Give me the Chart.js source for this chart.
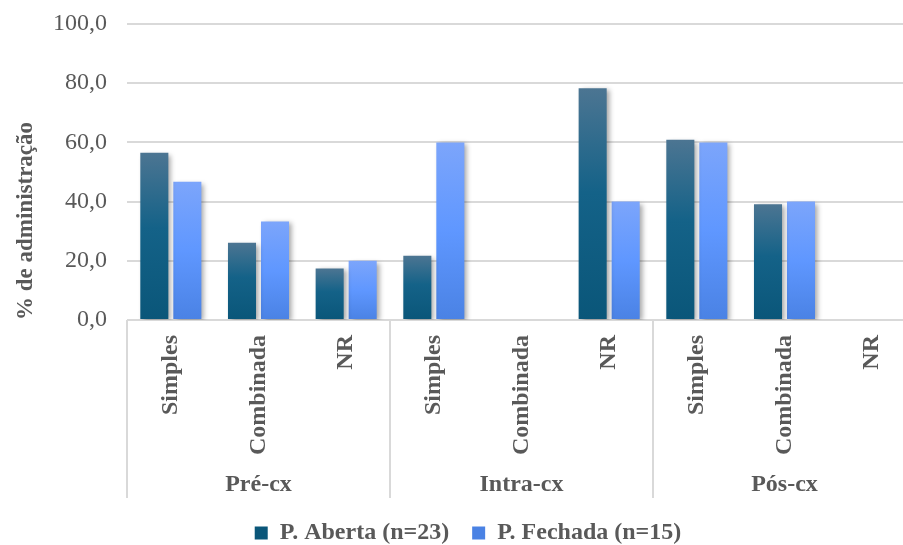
<!DOCTYPE html>
<html>
<head>
<meta charset="utf-8">
<script src="https://cdn.jsdelivr.net/npm/chart.js@4/dist/chart.umd.min.js"></script>
<style>
  html, body { margin: 0; padding: 0; background: #ffffff; overflow: hidden; width: 903px; height: 545px; }
  #wrap { position: relative; width: 916px; height: 555px; }
</style>
</head>
<body>
<div id="wrap"><canvas id="chart" width="916" height="555"></canvas></div>
<script>
// Groups (moment of administration) and sub-categories (type of analgesia)
const groups = ['Pré-cx', 'Intra-cx', 'Pós-cx'];
const subcats = ['Simples', 'Combinada', 'NR'];
const categories = groups.flatMap(() => subcats);

// % of patients per category
const seriesNames = ['P. Aberta (n=23)', 'P. Fechada (n=15)'];
const aberta  = [56.5, 26.1, 17.4, 21.7, 0, 78.3, 60.9, 39.1, 0];
const fechada = [46.7, 33.3, 20.0, 60.0, 0, 40.0, 60.0, 40.0, 0];

const yMin = 0, yMax = 100, yStep = 20;

const TEXT = '#595959';
const GRID = '#d9d9d9';
const SERIF = "'Liberation Serif', 'Times New Roman', serif";

// Vertical gradient fill for each bar, solid colour for the legend swatch
function barFill(stops, solid) {
  return (c) => {
    if (c.type !== 'data') return solid;
    const chart = c.chart;
    if (!chart.chartArea || !c.parsed) return solid;
    const y = chart.scales.y;
    const top = y.getPixelForValue(c.parsed.y);
    const bottom = y.getPixelForValue(0);
    if (bottom - top < 1) return solid;
    const g = chart.ctx.createLinearGradient(0, top, 0, bottom);
    stops.forEach(([o, col]) => g.addColorStop(o, col));
    return g;
  };
}

// Soft drop shadow under the bars
const barShadow = {
  id: 'barShadow',
  beforeDatasetsDraw(chart) {
    const ctx = chart.ctx;
    ctx.save();
    ctx.shadowColor = 'rgba(0,0,0,0.35)';
    ctx.shadowBlur = 5;
    ctx.shadowOffsetX = 3;
    ctx.shadowOffsetY = 2;
  },
  afterDatasetsDraw(chart) {
    chart.ctx.restore();
  }
};

// Separators between the groups on the category axis
const groupSeparators = {
  id: 'groupSeparators',
  afterDraw(chart) {
    const x = chart.scales.x;
    const x2 = chart.scales.x2;
    const ctx = chart.ctx;
    const n = categories.length;
    ctx.save();
    ctx.strokeStyle = GRID;
    ctx.lineWidth = 2;
    for (let i = 0; i <= n; i += subcats.length) {
      let px;
      if (i === 0) px = x.left;
      else if (i === n) px = x.right;
      else px = (x.getPixelForValue(i - 1) + x.getPixelForValue(i)) / 2;
      ctx.beginPath();
      ctx.moveTo(px, x.top);
      ctx.lineTo(px, x2.bottom);
      ctx.stroke();
    }
    ctx.restore();
  }
};

new Chart(document.getElementById('chart'), {
  type: 'bar',
  data: {
    labels: categories,
    datasets: [
      {
        label: seriesNames[0],
        data: aberta,
        backgroundColor: barFill([[0, '#4c7592'], [0.45, '#146288'], [1, '#0a5679']], '#1a5e80'),
        borderWidth: 0,
        categoryPercentage: 0.753,
        barPercentage: 0.85
      },
      {
        label: seriesNames[1],
        data: fechada,
        backgroundColor: barFill([[0, '#7ca5fb'], [0.5, '#5f97ff'], [1, '#4a82e4']], '#6699fa'),
        borderWidth: 0,
        categoryPercentage: 0.753,
        barPercentage: 0.85
      }
    ]
  },
  options: {
    responsive: false,
    animation: false,
    devicePixelRatio: 1,
    layout: { padding: { left: 20, right: 0, top: 24, bottom: 0 } },
    plugins: {
      tooltip: { enabled: false },
      legend: {
        position: 'bottom',
        labels: {
          boxWidth: 13,
          boxHeight: 13,
          padding: 23,
          color: TEXT,
          font: { family: SERIF, size: 24, weight: 'bold' }
        }
      }
    },
    scales: {
      y: {
        min: yMin,
        max: yMax,
        ticks: {
          stepSize: yStep,
          padding: 0,
          color: TEXT,
          font: { family: SERIF, size: 24 },
          callback: (v) => v.toFixed(1).replace('.', ',')
        },
        grid: { color: GRID, lineWidth: 2, drawTicks: true, tickLength: 20, tickColor: 'rgba(0,0,0,0)' },
        border: { display: false },
        title: {
          display: true,
          text: '% de administração',
          align: 'start',
          color: TEXT,
          padding: { top: -8, bottom: 0 },
          font: { family: SERIF, size: 23, weight: 'bold' }
        },
        afterFit: (s) => { s.width = 107; }
      },
      x: {
        weight: 0,
        grid: { display: false },
        border: { display: false },
        ticks: {
          autoSkip: false,
          minRotation: 90,
          maxRotation: 90,
          padding: 7,
          color: TEXT,
          font: { family: SERIF, size: 24, weight: 'bold' }
        },
        afterFit: (s) => { s.height = 137; }
      },
      x2: {
        type: 'category',
        position: 'bottom',
        weight: 1,
        labels: groups,
        offset: true,
        grid: { display: false },
        border: { display: false },
        ticks: {
          padding: 5,
          color: TEXT,
          font: { family: SERIF, size: 24, weight: 'bold' }
        },
        afterFit: (s) => { s.height = 41; }
      }
    }
  },
  plugins: [barShadow, groupSeparators]
});
</script>
</body>
</html>
